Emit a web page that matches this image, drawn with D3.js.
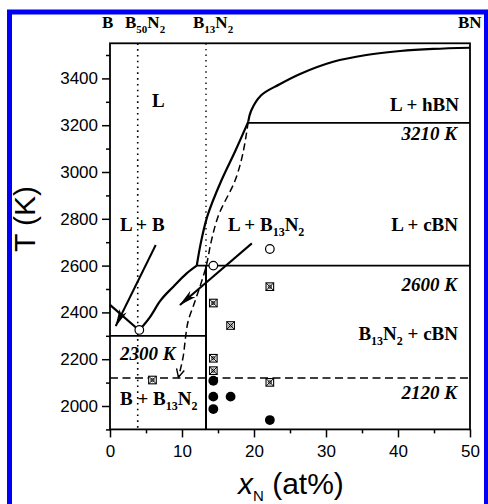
<!DOCTYPE html>
<html><head><meta charset="utf-8">
<script src="https://cdn.jsdelivr.net/npm/d3@7"></script>
<style>
html,body{margin:0;padding:0;background:#fff;}
svg{display:block;}
</style></head>
<body>
<script>
// ---- data ----
const xTicks = [0, 10, 20, 30, 40, 50];
const xMinor = [5, 15, 25, 35, 45];
const yTicks = [2000, 2200, 2400, 2600, 2800, 3000, 3200, 3400];
const yMinor = [1900, 2100, 2300, 2500, 2700, 2900, 3100, 3300, 3500];

// liquidus above 3210 K (x_N at%, T K)
const liquidusTop = [[19.2,3215],[19.6,3262],[21.0,3328],[23.5,3374],[26.4,3419],[31.0,3471],[35.6,3500],[40.3,3517],[44.9,3526],[50,3531]];
// liquidus between 3210 K and 2600 K (solid)
const liquidusMid = [[19.2,3215],[17.4,3090],[15.5,2966],[13.5,2809],[12.6,2695],[12.05,2600]];
// liquidus B side
const liquidusLeft = [[0,2432],[3.8,2330]];
const liquidusRise = [[4.1,2325],[5.6,2382],[6.9,2446],[8.8,2510],[10.65,2567],[12.05,2600]];
// dashed alternative liquidus
const dashedCurve = [[19.2,3215],[17.4,2966],[15.0,2809],[14.0,2695],[13.4,2603],[12.6,2520],[11.6,2430],[10.9,2368],[10.4,2269],[10.2,2218],[9.5,2123]];

// invariant lines
const isotherms = [
  {T:3210, x0:19.2, x1:50, dashed:false},
  {T:2600, x0:12.05, x1:50, dashed:false},
  {T:2300, x0:0, x1:13.33, dashed:false},
  {T:2120, x0:0, x1:50, dashed:true}
];
const compB50N2 = 3.85, compB13N2 = 13.33;

// arrows [from, to]
const arrows = [
  [[6.35,2688],[0.8,2342]],
  [[19.7,2695],[9.72,2432]]
];

// experimental points
const openCircles = [[4.07,2325],[14.35,2600],[22.2,2671]];
const crossSquares = [[14.35,2440],[16.75,2344],[22.2,2510],[14.35,2204],[14.35,2151],[22.2,2101],[5.9,2111]];
const filledCircles = [[14.35,2108],[14.35,2040],[16.75,2040],[14.35,1987],[22.2,1940]];

// top composition labels
const topLabels = [
  {parts:[["B",0]], x:102},
  {parts:[["B",0],["50",1],["N",0],["2",1]], x:125},
  {parts:[["B",0],["13",1],["N",0],["2",1]], x:193},
  {parts:[["BN",0]], x:458}
];
// region labels
const regionLabels = [
  {parts:[["L",0]], x:152, y:107, anchor:"start", italic:false},
  {parts:[["L + hBN",0]], x:459, y:111, anchor:"end", italic:false},
  {parts:[["3210 K",0]], x:457, y:140, anchor:"end", italic:true},
  {parts:[["L + cBN",0]], x:458, y:231, anchor:"end", italic:false},
  {parts:[["2600 K",0]], x:457, y:291, anchor:"end", italic:true},
  {parts:[["B",0],["13",1],["N",0],["2",1],[" + cBN",0]], x:458, y:340, anchor:"end", italic:false},
  {parts:[["2120 K",0]], x:457, y:399, anchor:"end", italic:true},
  {parts:[["L + B",0]], x:120, y:231, anchor:"start", italic:false},
  {parts:[["L + B",0],["13",1],["N",0],["2",1]], x:228, y:231, anchor:"start", italic:false},
  {parts:[["2300 K",0]], x:120, y:360, anchor:"start", italic:true},
  {parts:[["B + B",0],["13",1],["N",0],["2",1]], x:120, y:405, anchor:"start", italic:false}
];

// ---- drawing ----
const W = 488, H = 504;
const svg = d3.select("body").append("svg").attr("width", W).attr("height", H);

// blue frame
svg.append("rect").attr("x", 9.5).attr("y", 12).attr("width", 477).attr("height", 520)
  .attr("fill", "none").attr("stroke", "#0000f5").attr("stroke-width", 5);

const x = d3.scaleLinear().domain([0, 50]).range([110, 470]);
const y = d3.scaleLinear().domain([1900, 3550]).range([429.4, 43.3]);

const serif = "'Liberation Serif','Times New Roman',serif";
const sans = "'Liberation Sans',Arial,sans-serif";

// axes
const xAxis = svg.append("g").attr("transform", `translate(0,${y(1900)})`)
  .call(d3.axisBottom(x).tickValues(xTicks).tickSize(8).tickPadding(4).tickFormat(d3.format("d")));
const xAxisMinor = svg.append("g").attr("transform", `translate(0,${y(1900)})`)
  .call(d3.axisBottom(x).tickValues(xMinor).tickSize(4).tickFormat(""));
const yAxis = svg.append("g").attr("transform", `translate(${x(0)},0)`)
  .call(d3.axisLeft(y).tickValues(yTicks).tickSize(8).tickPadding(4).tickFormat(d3.format("d")));
const yAxisMinor = svg.append("g").attr("transform", `translate(${x(0)},0)`)
  .call(d3.axisLeft(y).tickValues(yMinor).tickSize(4).tickFormat(""));
[xAxis, xAxisMinor, yAxis, yAxisMinor].forEach(g => {
  g.select(".domain").remove();
  g.selectAll("line").attr("stroke", "#000").attr("stroke-width", 1.5);
  g.selectAll("text").attr("font-family", sans).attr("font-size", 17).attr("fill", "#000");
});
xAxis.selectAll("text").attr("dy", "0.9em");

// plot frame
svg.append("rect").attr("x", x(0)).attr("y", y(3550)).attr("width", x(50) - x(0)).attr("height", y(1900) - y(3550))
  .attr("fill", "none").attr("stroke", "#000").attr("stroke-width", 1.8);

// markers for arrows
const defs = svg.append("defs");
defs.append("marker").attr("id", "ah").attr("viewBox", "0 0 18 8").attr("refX", 17).attr("refY", 4)
  .attr("markerWidth", 18).attr("markerHeight", 8).attr("markerUnits", "userSpaceOnUse").attr("orient", "auto")
  .append("path").attr("d", "M0,0 L18,4 L0,8 L5,4 Z").attr("fill", "#000");
defs.append("marker").attr("id", "ahOpen").attr("viewBox", "0 0 10 10").attr("refX", 9).attr("refY", 5)
  .attr("markerWidth", 10).attr("markerHeight", 10).attr("markerUnits", "userSpaceOnUse").attr("orient", "auto")
  .append("path").attr("d", "M1,1 L9,5 L1,9").attr("fill", "none").attr("stroke", "#000").attr("stroke-width", 1.4);

const line = d3.line().x(d => x(d[0])).y(d => y(d[1]));
const curveC = d3.line().x(d => x(d[0])).y(d => y(d[1])).curve(d3.curveCatmullRom.alpha(0.5));
const curveX = d3.line().x(d => x(d[0])).y(d => y(d[1])).curve(d3.curveMonotoneX);
const curveY = d3.line().x(d => x(d[0])).y(d => y(d[1])).curve(d3.curveMonotoneY);

// composition dotted lines
svg.append("line").attr("x1", x(compB50N2)).attr("x2", x(compB50N2)).attr("y1", y(3550)).attr("y2", y(1900))
  .attr("stroke", "#000").attr("stroke-width", 1.6).attr("stroke-dasharray", "1.6,4.2");
svg.append("line").attr("x1", x(compB13N2)).attr("x2", x(compB13N2)).attr("y1", y(3550)).attr("y2", y(2600))
  .attr("stroke", "#000").attr("stroke-width", 1.4).attr("stroke-dasharray", "1.4,4.2");
// B13N2 solid vertical below 2600
svg.append("line").attr("x1", x(compB13N2)).attr("x2", x(compB13N2)).attr("y1", y(2600)).attr("y2", y(1900))
  .attr("stroke", "#000").attr("stroke-width", 2);

// isotherms
isotherms.forEach(d => {
  svg.append("line").attr("x1", x(d.x0)).attr("x2", x(d.x1)).attr("y1", y(d.T)).attr("y2", y(d.T))
    .attr("stroke", "#000").attr("stroke-width", d.dashed ? 1.5 : 1.8)
    .attr("stroke-dasharray", d.dashed ? "8,4.5" : null);
});

// liquidus curves
svg.append("path").attr("d", curveC(liquidusTop)).attr("fill", "none").attr("stroke", "#000").attr("stroke-width", 2.2);
svg.append("path").attr("d", curveY(liquidusMid)).attr("fill", "none").attr("stroke", "#000").attr("stroke-width", 2.2);
svg.append("path").attr("d", curveX(liquidusRise)).attr("fill", "none").attr("stroke", "#000").attr("stroke-width", 2.2);
svg.append("path").attr("d", line(liquidusLeft)).attr("fill", "none").attr("stroke", "#000").attr("stroke-width", 2.2);
svg.append("path").attr("d", curveY(dashedCurve)).attr("fill", "none").attr("stroke", "#000").attr("stroke-width", 1.5)
  .attr("stroke-dasharray", "7,4").attr("marker-end", "url(#ahOpen)");

// arrows
arrows.forEach(a => {
  svg.append("path").attr("d", line(a)).attr("fill", "none").attr("stroke", "#000").attr("stroke-width", 2)
    .attr("marker-end", "url(#ah)");
});

// points
svg.selectAll(".oc").data(openCircles).enter().append("circle")
  .attr("cx", d => x(d[0])).attr("cy", d => y(d[1])).attr("r", 4.3)
  .attr("fill", "#fff").attr("stroke", "#000").attr("stroke-width", 1.2);
const cs = svg.selectAll(".cs").data(crossSquares).enter().append("g")
  .attr("transform", d => `translate(${x(d[0])},${y(d[1])})`);
cs.append("rect").attr("x", -3.8).attr("y", -3.8).attr("width", 7.6).attr("height", 7.6)
  .attr("fill", "#fff").attr("stroke", "#000").attr("stroke-width", 1.1);
cs.append("path").attr("d", "M-3.8,-3.8L3.8,3.8M3.8,-3.8L-3.8,3.8").attr("stroke", "#000").attr("stroke-width", 1);
cs.append("circle").attr("r", 1.7).attr("fill", "none").attr("stroke", "#000").attr("stroke-width", 0.8);
svg.selectAll(".fc").data(filledCircles).enter().append("circle")
  .attr("cx", d => x(d[0])).attr("cy", d => y(d[1])).attr("r", 4.9).attr("fill", "#000");

// rich label helper
function richText(parent, parts, px, py, size, subSize, opts) {
  const t = parent.append("text").attr("x", px).attr("y", py)
    .attr("font-family", serif).attr("font-weight", "bold").attr("font-size", size)
    .attr("text-anchor", opts.anchor || "start")
    .attr("font-style", opts.italic ? "italic" : "normal").attr("fill", "#000");
  let sub = false;
  parts.forEach(p => {
    const ts = t.append("tspan").text(p[0]);
    if (p[1] && !sub) { ts.attr("font-size", subSize).attr("dy", size * 0.28); sub = true; }
    else if (p[1] && sub) { ts.attr("font-size", subSize); }
    else if (!p[1] && sub) { ts.attr("dy", -size * 0.28); sub = false; }
  });
  return t;
}
topLabels.forEach(d => richText(svg, d.parts, d.x, 28, 17, 11, {anchor: "start"}));
regionLabels.forEach(d => richText(svg, d.parts, d.x, d.y, 19, 12, {anchor: d.anchor, italic: d.italic}));

// axis titles
svg.append("text").attr("transform", "translate(35,219) rotate(-90)").attr("text-anchor", "middle")
  .attr("font-family", sans).attr("font-size", 30).attr("fill", "#000").text("T (K)");
const xt = svg.append("text").attr("x", 238).attr("y", 494).attr("font-family", sans).attr("font-size", 30).attr("fill", "#000");
xt.append("tspan").attr("font-style", "italic").text("x");
xt.append("tspan").attr("font-size", 15).attr("dy", 7).text("N");
xt.append("tspan").attr("dy", -7).text(" (at%)");
</script>
</body></html>
